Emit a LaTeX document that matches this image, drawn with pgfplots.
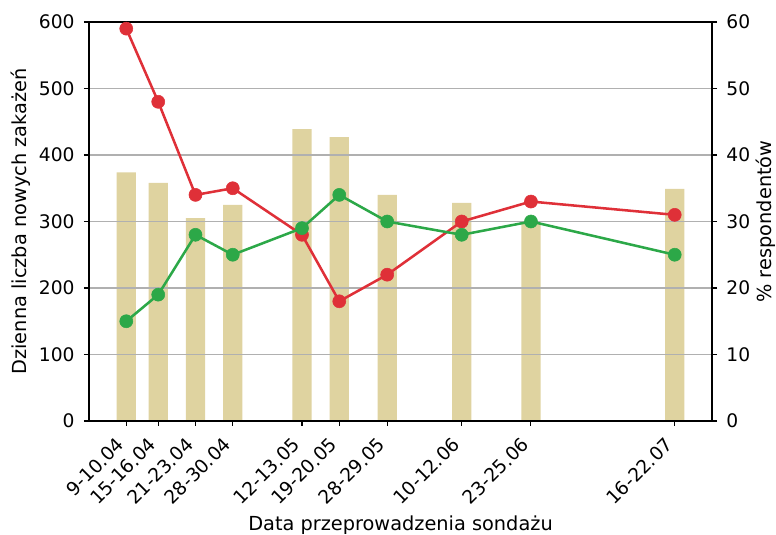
\documentclass[border=0pt]{standalone}
\usepackage{fontspec}
\setmainfont{DejaVu Sans}
\usepackage{pgfplots}
\pgfplotsset{compat=1.18}
\definecolor{barc}{RGB}{223,211,160}
\definecolor{redc}{RGB}{223,48,56}
\definecolor{greenc}{RGB}{44,168,72}
\definecolor{gridc}{RGB}{176,176,176}
\begin{document}
\begin{tikzpicture}
\pgfplotsset{
  every axis/.append style={
    scale only axis, width=467.25pt, height=299.25pt,
    at={(0pt,0pt)}, anchor=south west,
    xmin=3, xmax=120,
    tick label style={font=\fontsize{14}{16}\selectfont},
    label style={font=\fontsize{14.5}{17}\selectfont},
    /pgf/number format/assume math mode=true,
    tick align=outside, major tick length=3.75pt,
    tick style={black, line width=0.8pt},
    axis line style={line width=0.9pt},
  }
}
\begin{axis}[
  ymin=0, ymax=600, ytick={0,100,...,600},
  tick pos=left,
  xtick={10,16,23,30,43,50,59,73,86,113},
  xticklabels={9-10.04,15-16.04,21-23.04,28-30.04,12-13.05,19-20.05,28-29.05,10-12.06,23-25.06,16-22.07},
  xticklabel style={xshift=-8pt, yshift=-6pt, rotate=45, anchor=north east, inner sep=1pt},
  yticklabel style={xshift=-3.5pt},
  ymajorgrids, grid style={gridc, line width=1pt},
  axis on top,
  xlabel={Data przeprowadzenia sondażu},
  xlabel style={at={(rel axis cs:0.5,0)}, anchor=base, yshift=-82pt},
  ylabel={Dzienna liczba nowych zakażeń},
  ylabel style={at={([xshift=-46.5pt]rel axis cs:0,0.5)}, anchor=base},
]
\addplot[ybar, bar width=3.6, fill=barc, draw=none] coordinates {(10,374) (16,358) (23,305) (30,325) (43,439) (50,427) (59,340) (73,328) (86,300) (113,349)};
\end{axis}
\begin{axis}[
  ymin=0, ymax=60, ytick={0,10,...,60},
  axis x line=none, axis y line*=right,
  yticklabel style={xshift=3.5pt},
  ylabel={\% respondentów},
  ylabel style={at={([xshift=44.5pt]rel axis cs:1,0.5)}, anchor=base},
  clip=false,
]
\addplot[redc, line width=1.9pt, mark=*, mark size=4.9pt, mark options={solid, fill=redc, draw=redc, line width=0.4pt}] coordinates {(10,59) (16,48) (23,34) (30,35) (43,28) (50,18) (59,22) (73,30) (86,33) (113,31)};
\addplot[greenc, line width=1.9pt, mark=*, mark size=4.9pt, mark options={solid, fill=greenc, draw=greenc, line width=0.4pt}] coordinates {(10,15) (16,19) (23,28) (30,25) (43,29) (50,34) (59,30) (73,28) (86,30) (113,25)};
\end{axis}
\pgfresetboundingbox
\useasboundingbox (-66.75pt,-85.5pt) rectangle (515.25pt,315.75pt);
\end{tikzpicture}
\end{document}
